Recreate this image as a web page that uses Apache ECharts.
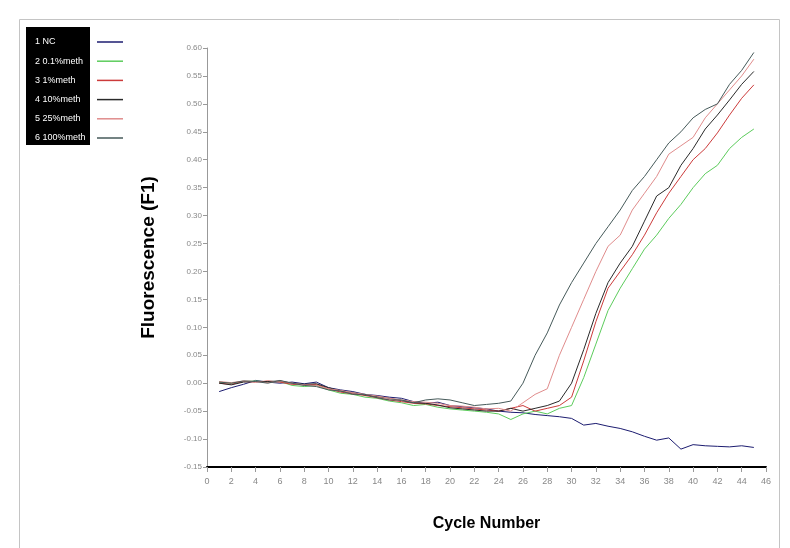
<!DOCTYPE html>
<html>
<head>
<meta charset="utf-8">
<script src="https://cdn.jsdelivr.net/npm/echarts@6/dist/echarts.min.js"></script>
<style>
html,body{margin:0;padding:0;background:#fff;}
#chart{width:790px;height:548px;}
</style>
</head>
<body>
<div id="chart"></div>
<script>
var cycles = [];
for (var i = 1; i <= 45; i++) cycles.push(i);

var seriesNames = ['1 NC', '2 0.1%meth', '3 1%meth', '4 10%meth', '5 25%meth', '6 100%meth'];
var seriesColors = ['#1c1c70', '#5ccc5c', '#cc3b3b', '#2a2a2a', '#e08c8c', '#465a5a'];

var nc = [-0.015,-0.008,-0.002,0.005,0.002,0.000,0.002,-0.001,0.002,-0.008,-0.012,-0.015,-0.020,-0.022,-0.025,-0.027,-0.033,-0.036,-0.034,-0.040,-0.042,-0.044,-0.046,-0.050,-0.052,-0.053,-0.056,-0.058,-0.060,-0.063,-0.075,-0.072,-0.077,-0.081,-0.087,-0.095,-0.102,-0.098,-0.118,-0.110,-0.112,-0.113,-0.114,-0.112,-0.115];
var meth01 = [0.002,0.000,0.003,0.004,0.002,0.003,-0.004,-0.006,-0.004,-0.012,-0.018,-0.020,-0.025,-0.027,-0.032,-0.035,-0.040,-0.038,-0.043,-0.046,-0.048,-0.050,-0.052,-0.055,-0.065,-0.055,-0.050,-0.055,-0.045,-0.040,0.010,0.070,0.130,0.170,0.205,0.240,0.265,0.295,0.320,0.350,0.375,0.390,0.420,0.440,0.455];
var meth1 = [0.000,-0.002,0.003,0.002,0.004,0.002,-0.002,-0.003,-0.002,-0.010,-0.016,-0.019,-0.022,-0.026,-0.030,-0.033,-0.036,-0.037,-0.040,-0.042,-0.044,-0.046,-0.048,-0.050,-0.045,-0.040,-0.050,-0.045,-0.040,-0.025,0.040,0.110,0.170,0.200,0.230,0.265,0.305,0.340,0.370,0.400,0.420,0.448,0.480,0.510,0.534];
var meth10 = [0.000,-0.003,0.002,0.003,0.003,0.004,0.000,-0.002,-0.001,-0.008,-0.014,-0.017,-0.021,-0.024,-0.027,-0.031,-0.035,-0.036,-0.039,-0.044,-0.046,-0.048,-0.050,-0.050,-0.045,-0.050,-0.045,-0.040,-0.032,0.000,0.060,0.125,0.180,0.215,0.245,0.290,0.335,0.350,0.390,0.420,0.455,0.480,0.507,0.535,0.558];
var meth25 = [0.003,0.001,0.004,0.003,0.001,0.004,0.000,-0.003,-0.004,-0.010,-0.013,-0.017,-0.020,-0.023,-0.027,-0.030,-0.033,-0.034,-0.036,-0.040,-0.041,-0.043,-0.046,-0.045,-0.050,-0.035,-0.020,-0.010,0.050,0.100,0.150,0.200,0.245,0.265,0.310,0.340,0.370,0.410,0.425,0.440,0.475,0.500,0.525,0.550,0.580];
var meth100 = [0.002,0.000,0.004,0.003,0.000,0.005,0.000,-0.004,-0.006,-0.012,-0.014,-0.020,-0.020,-0.026,-0.030,-0.030,-0.035,-0.030,-0.028,-0.030,-0.035,-0.040,-0.038,-0.036,-0.032,0.000,0.050,0.090,0.140,0.180,0.215,0.250,0.280,0.310,0.345,0.370,0.400,0.430,0.450,0.475,0.490,0.500,0.535,0.560,0.592];

var allValues = [nc, meth01, meth1, meth10, meth25, meth100];

var xTicks = { min: 0, max: 46, interval: 2 };
var yTicks = { min: -0.15, max: 0.60, interval: 0.05 };

var chart = echarts.init(document.getElementById('chart'), null, { renderer: 'canvas' });

var series = allValues.map(function (vals, k) {
  return {
    name: seriesNames[k],
    type: 'line',
    data: vals.map(function (v, i) { return [cycles[i], v]; }),
    showSymbol: false,
    symbol: 'none',
    lineStyle: { width: 1, color: seriesColors[k] },
    itemStyle: { color: seriesColors[k] },
    color: seriesColors[k],
    z: 2 + k
  };
});

var option = {
  backgroundColor: '#ffffff',
  animation: false,
  graphic: [
    { type: 'rect', shape: { x: 19.5, y: 19.5, width: 760, height: 560 }, style: { fill: 'none', stroke: '#c4c4c4', lineWidth: 1 }, z: -10 },
    { type: 'rect', shape: { x: 26, y: 27, width: 64, height: 118 }, style: { fill: '#000000' }, z: -5 }
  ],
  legend: [
    {
      orient: 'vertical', left: 25, top: 31,
      icon: 'none', itemWidth: 0, itemHeight: 12, itemGap: 7.2,
      textStyle: { color: '#ffffff', fontSize: 9, fontFamily: 'Liberation Sans Narrow, Liberation Sans, Arial', lineHeight: 12 },
      data: seriesNames
    },
    {
      orient: 'vertical', left: 92, top: 31,
      icon: 'path://M0,0h26v1.5h-26z', itemWidth: 26, itemHeight: 12, itemGap: 7.2,
      formatter: function () { return ' '; },
      textStyle: { color: 'rgba(0,0,0,0)', fontSize: 9, lineHeight: 12 },
      data: seriesNames
    }
  ],
  grid: { left: 207, right: 24, top: 48, bottom: 81, containLabel: false },
  xAxis: {
    type: 'value', min: xTicks.min, max: xTicks.max, interval: xTicks.interval,
    name: 'Cycle Number', nameLocation: 'middle', nameGap: 49,
    nameTextStyle: { fontSize: 16, fontWeight: 'bold', color: '#000', fontFamily: 'Liberation Sans, Arial' },
    axisLine: { onZero: false, lineStyle: { color: '#000', width: 2 } },
    axisTick: { show: true, length: 5, lineStyle: { color: '#999' } },
    axisLabel: { fontSize: 9, color: '#888', margin: 10, fontFamily: 'Liberation Sans Narrow, Liberation Sans, Arial' },
    splitLine: { show: false }
  },
  yAxis: {
    type: 'value', min: yTicks.min, max: yTicks.max, interval: yTicks.interval,
    name: 'Fluorescence (F1)', nameLocation: 'middle', nameGap: 49, nameRotate: 90,
    nameTextStyle: { fontSize: 19, fontWeight: 'bold', color: '#000', fontFamily: 'Liberation Sans, Arial' },
    axisLine: { show: true, onZero: false, lineStyle: { color: '#999', width: 1 } },
    axisTick: { show: true, length: 4, lineStyle: { color: '#999' } },
    axisLabel: { fontSize: 8, color: '#888', margin: 5, formatter: function (v) { return v.toFixed(2); }, fontFamily: 'Liberation Sans Narrow, Liberation Sans, Arial' },
    splitLine: { show: false }
  },
  series: series
};
chart.setOption(option);
</script>
</body>
</html>
